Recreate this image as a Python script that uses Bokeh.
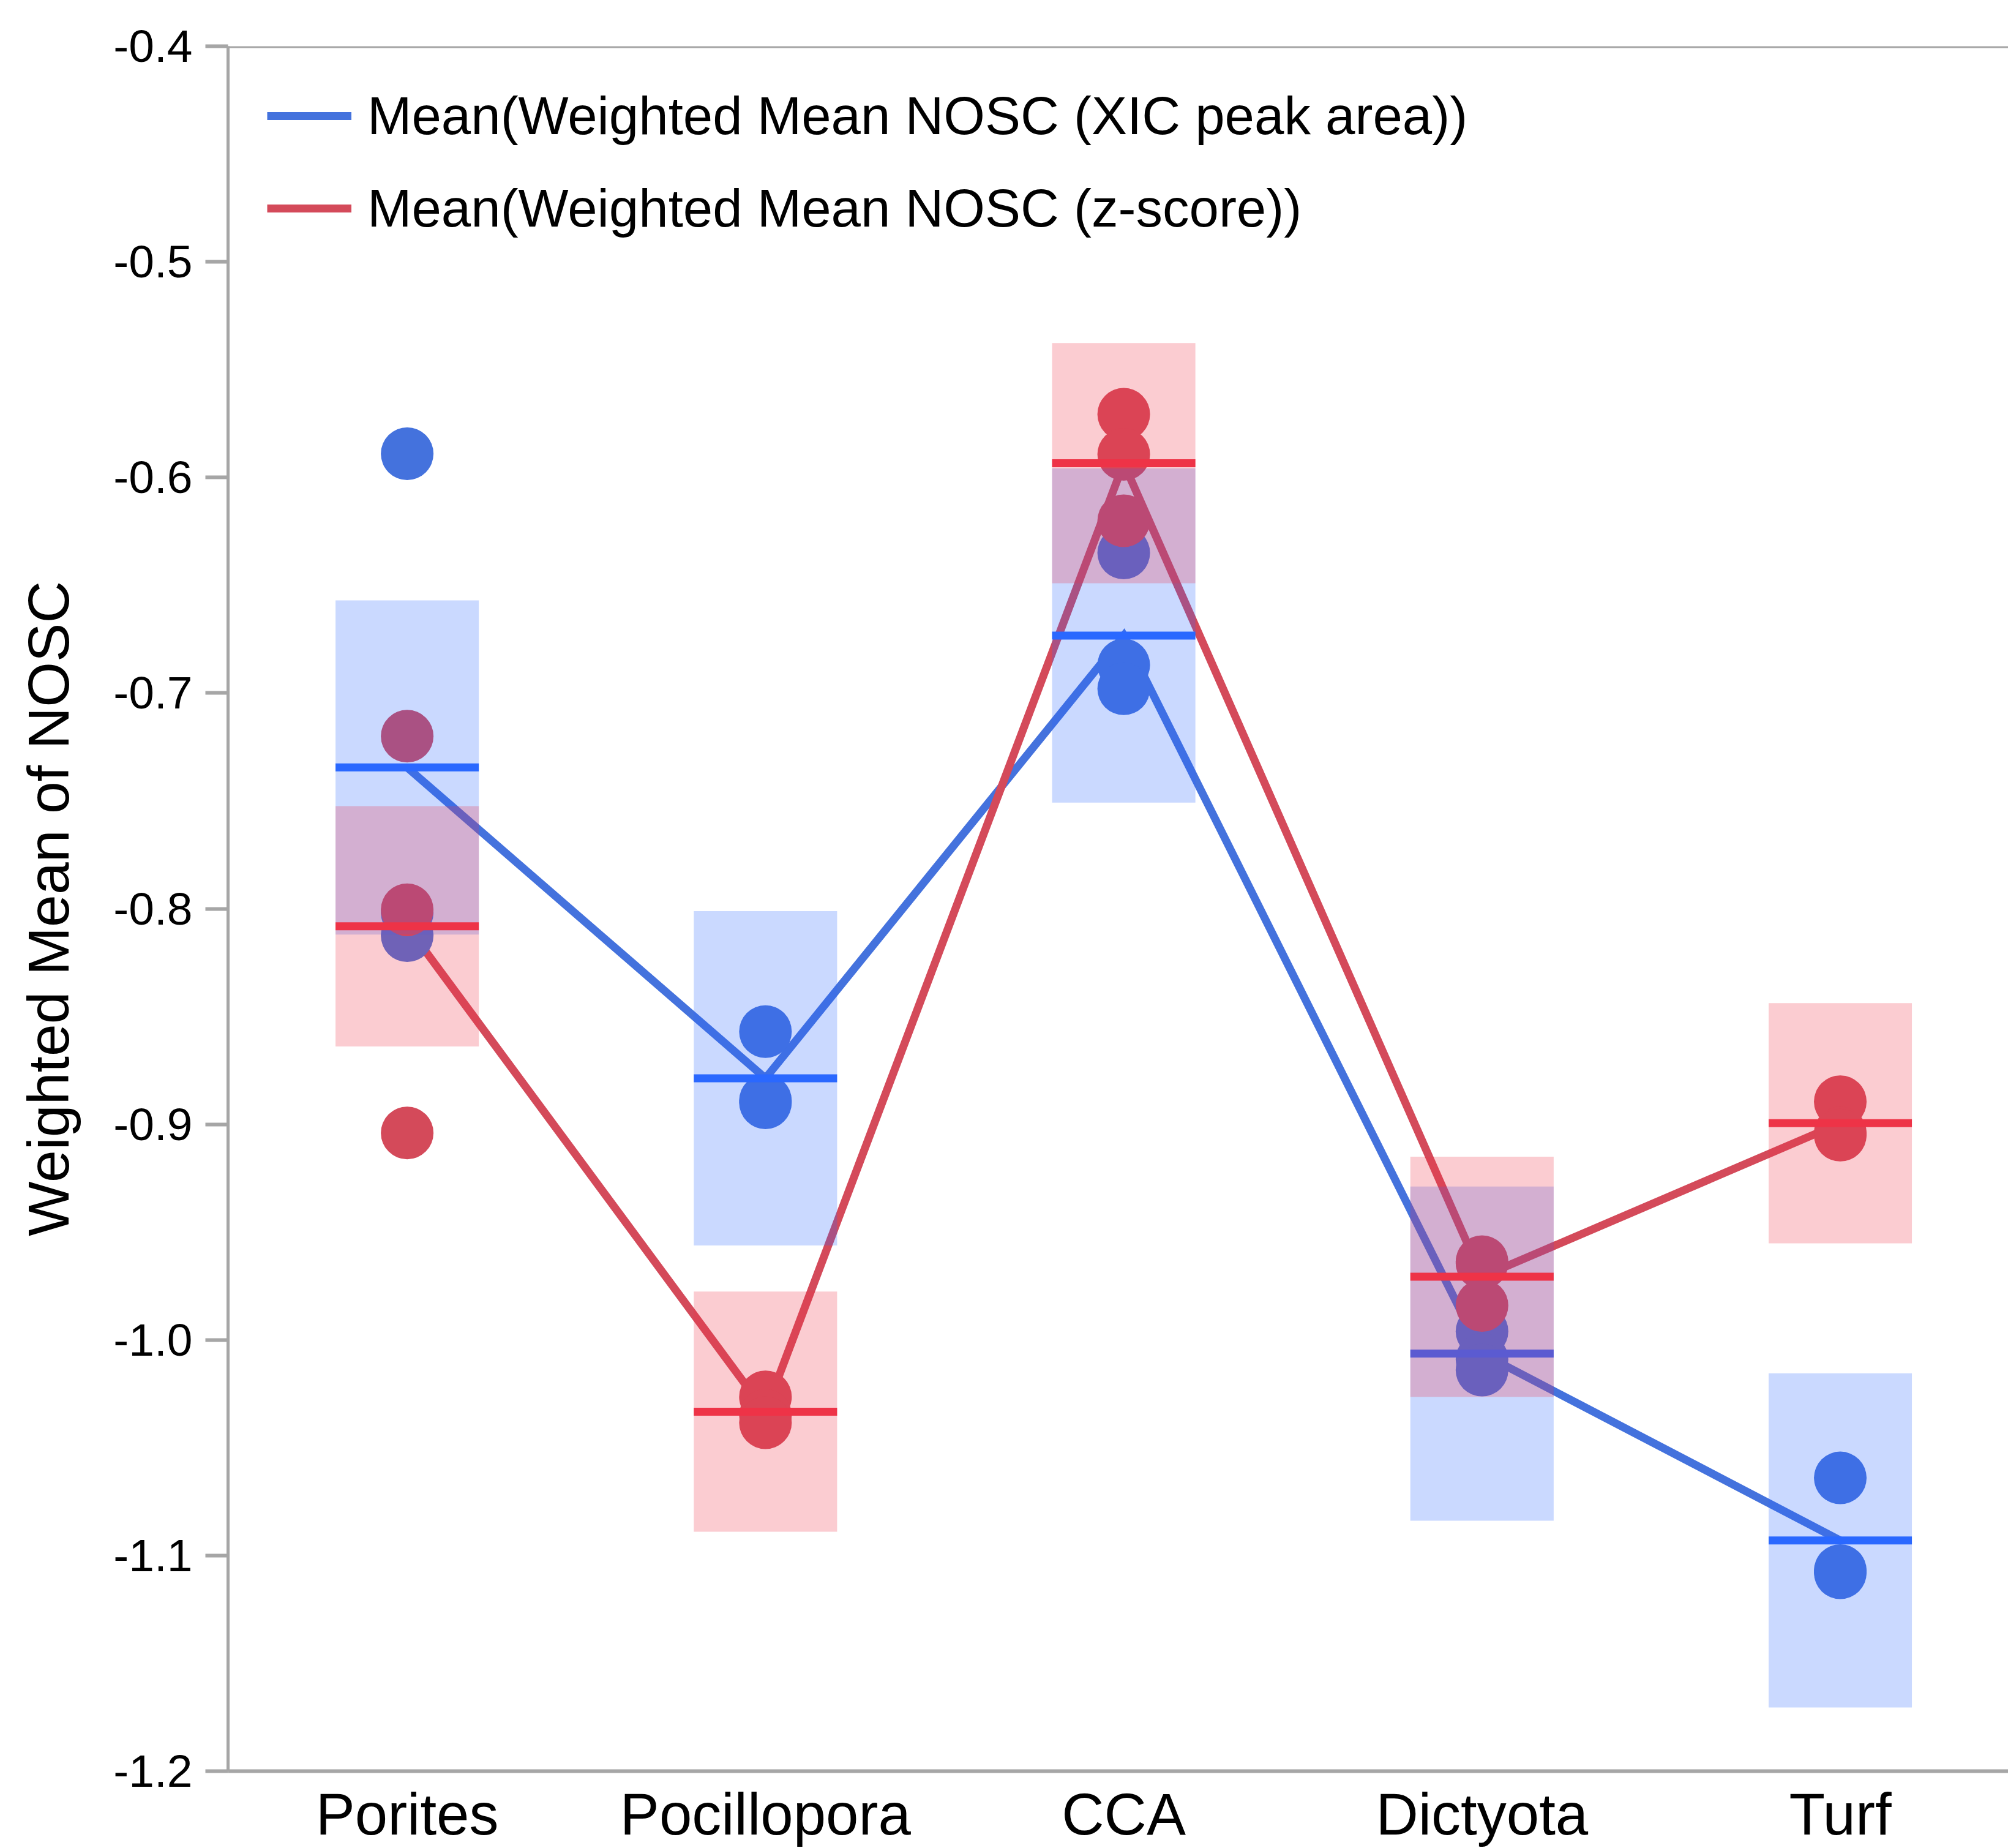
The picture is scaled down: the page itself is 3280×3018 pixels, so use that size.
import numpy as np
from bokeh.plotting import figure
from bokeh.models import FixedTicker, NumeralTickFormatter, Range1d, Span, Legend, LegendItem
from bokeh.embed import file_html
from bokeh.resources import INLINE

# ---------------- data ----------------
categories = ["Porites", "Pocillopora", "CCA", "Dictyota", "Turf"]

# individual replicate values, Weighted Mean NOSC (XIC peak area)
xic_porites = [-0.589, -0.802, -0.8125]
xic_pocillopora = [-0.857, -0.889, -0.890]
xic_cca = [-0.635, -0.687, -0.698]
xic_dictyota = [-0.996, -1.009, -1.014]
xic_turf = [-1.064, -1.107, -1.108]

# individual replicate values, Weighted Mean NOSC (z-score)
z_porites = [-0.720, -0.8005, -0.904]
z_pocillopora = [-1.0264, -1.035, -1.0384]
z_cca = [-0.5707, -0.5893, -0.6201]
z_dictyota = [-0.9637, -0.9644, -0.984]
z_turf = [-0.8895, -0.904, -0.905]

# half-height of the shaded band around each mean
xic_band_half = [0.0775, 0.0775, 0.0775, 0.0775, 0.0775]
z_band_half = [0.0557, 0.0557, 0.0557, 0.0557, 0.0557]

y_ticks = [-1.2, -1.1, -1.0, -0.9, -0.8, -0.7, -0.6, -0.5, -0.4]

series_xic = [xic_porites, xic_pocillopora, xic_cca, xic_dictyota, xic_turf]
series_z = [z_porites, z_pocillopora, z_cca, z_dictyota, z_turf]

# ---------------- styles ----------------
BLUE = "#4472DD"
RED = "#D44A5A"
BLUE_MEAN = "#2A68FF"
RED_MEAN = "#EE3347"
AXIS_GRAY = "#A6A6A6"
FONT = "Liberation Sans"

xpos = np.arange(len(categories), dtype=float)
half_w = 0.2

p = figure(width=3280, height=3018, output_backend="svg", toolbar_location=None,
           x_range=Range1d(-0.5, 4.469), y_range=Range1d(-1.2, -0.4))
p.min_border_left = 372
p.min_border_right = 0
p.min_border_top = 75
p.min_border_bottom = 123
p.outline_line_color = None
p.background_fill_color = "white"
p.border_fill_color = "white"
p.xgrid.visible = False
p.ygrid.visible = False


def flatten(series):
    xs, ys = [], []
    for i, vals in enumerate(series):
        for v in vals:
            xs.append(xpos[i])
            ys.append(v)
    return xs, ys


xic_means = np.array([np.mean(v) for v in series_xic])
z_means = np.array([np.mean(v) for v in series_z])

# connecting lines through the means
blue_line = p.line(xpos, xic_means, line_color=BLUE, line_width=13, line_join="miter")
red_line = p.line(xpos, z_means, line_color=RED, line_width=13, line_join="miter")

# replicate points
bx, by = flatten(series_xic)
rx, ry = flatten(series_z)
p.scatter(bx, by, size=86, fill_color=BLUE, line_color=None)
p.scatter(rx, ry, size=86, fill_color=RED, line_color=None)

# shaded bands and mean lines
xb = np.array(xic_band_half)
zb = np.array(z_band_half)
p.quad(left=xpos - half_w, right=xpos + half_w, bottom=xic_means - xb, top=xic_means + xb,
       fill_color=BLUE_MEAN, fill_alpha=0.25, line_color=None)
p.segment(x0=xpos - half_w, x1=xpos + half_w, y0=xic_means, y1=xic_means,
          line_color=BLUE_MEAN, line_width=13)
p.quad(left=xpos - half_w, right=xpos + half_w, bottom=z_means - zb, top=z_means + zb,
       fill_color=RED_MEAN, fill_alpha=0.25, line_color=None)
p.segment(x0=xpos - half_w, x1=xpos + half_w, y0=z_means, y1=z_means,
          line_color=RED_MEAN, line_width=13)

# top frame line
p.add_layout(Span(location=-0.4, dimension="width", line_color=AXIS_GRAY, line_width=6))

# y axis
yax = p.yaxis[0]
yax.ticker = FixedTicker(ticks=y_ticks)
yax.formatter = NumeralTickFormatter(format="0.0")
yax.axis_line_color = AXIS_GRAY
yax.axis_line_width = 5
yax.major_tick_line_color = AXIS_GRAY
yax.major_tick_line_width = 6
yax.major_tick_out = 37
yax.major_tick_in = 0
yax.minor_tick_line_color = None
yax.major_label_standoff = 21
yax.major_label_text_font = FONT
yax.major_label_text_font_size = "75px"
yax.major_label_text_color = "black"
yax.axis_label = "Weighted Mean of NOSC"
yax.axis_label_text_font = FONT
yax.axis_label_text_font_size = "95px"
yax.axis_label_text_font_style = "normal"
yax.axis_label_text_color = "black"
yax.axis_label_standoff = 50

# x axis
xax = p.xaxis[0]
xax.ticker = FixedTicker(ticks=list(xpos))
xax.major_label_overrides = {float(i): c for i, c in enumerate(categories)}
xax.major_label_overrides.update({i: c for i, c in enumerate(categories)})
xax.axis_line_color = AXIS_GRAY
xax.axis_line_width = 6
xax.major_tick_line_color = None
xax.major_tick_out = 0
xax.major_tick_in = 0
xax.minor_tick_line_color = None
xax.major_label_standoff = 16
xax.major_label_text_font = FONT
xax.major_label_text_font_size = "96px"
xax.major_label_text_color = "black"

# legend
legend = Legend(items=[
    LegendItem(label="Mean(Weighted Mean NOSC (XIC peak area))", renderers=[blue_line]),
    LegendItem(label="Mean(Weighted Mean NOSC (z-score))", renderers=[red_line]),
], location="top_left")
legend.margin = 64
legend.padding = 0
legend.spacing = 51
legend.label_height = 100
legend.glyph_height = 100
legend.glyph_width = 138
legend.label_standoff = 26
legend.label_text_font = FONT
legend.label_text_font_size = "87px"
legend.label_text_color = "black"
legend.border_line_color = None
legend.background_fill_alpha = 0
p.add_layout(legend)

open("out.html", "w").write(file_html(p, INLINE))
